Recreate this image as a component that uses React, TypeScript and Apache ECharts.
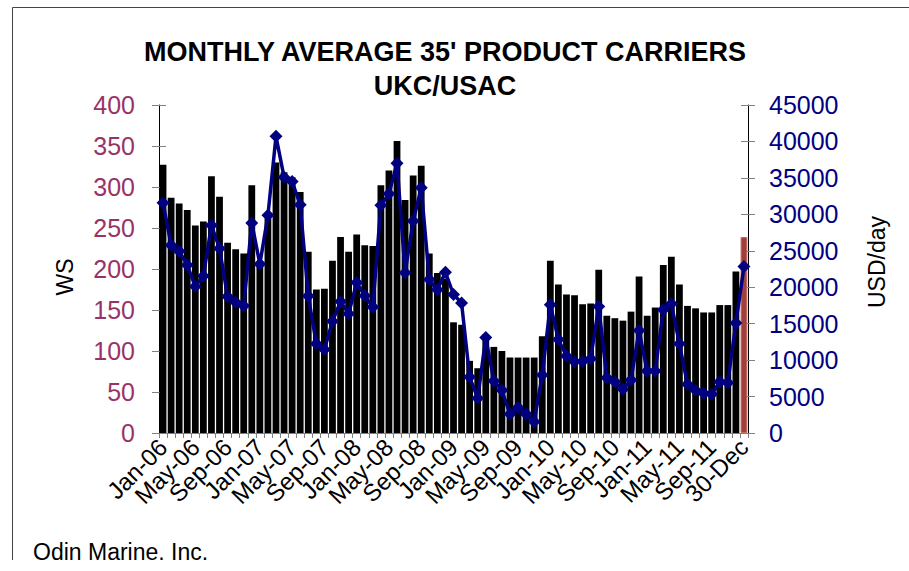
import React, { useEffect, useRef } from 'react';
import * as echarts from 'echarts';

const MONTHS = ['Jan', 'Feb', 'Mar', 'Apr', 'May', 'Jun', 'Jul', 'Aug', 'Sep', 'Oct', 'Nov', 'Dec'];
const YEARS = ['06', '07', '08', '09', '10', '11'];
const LAST_CATEGORY = '30-Dec';
const categories: string[] = [...YEARS.flatMap((y) => MONTHS.map((m) => `${m}-${y}`)), LAST_CATEGORY];
const LABEL_EVERY = 4;

// WS (left axis, bars)
const wsValues = [
  327, 287, 280, 272, 253, 258, 313, 288, 232, 224, 219, 302,
  206, 262, 330, 318, 312, 294, 221, 175, 176, 210, 239, 221,
  242, 229, 228, 302, 320, 356, 284, 314, 326, 219, 195, 188,
  135, 132, 88, 79, 120, 105, 100, 92, 92, 92, 92, 118,
  210, 181, 169, 168, 157, 158, 199, 143, 140, 137, 148, 191,
  143, 153, 205, 215, 181, 155, 152, 147, 147, 156, 156, 197,
  239,
];

// USD/day (right axis, line)
const usdValues = [
  31600, 25770, 24950, 23050, 20090, 21550, 28500, 25320, 18730, 17950, 17460, 28820,
  23180, 29860, 40700, 35100, 34500, 31300, 18800, 12230, 11450, 15320, 18050, 16360,
  20640, 18820, 17270, 31230, 32820, 37000, 22000, 29090, 33640, 21050, 19640, 22050,
  19000, 17850, 7680, 4770, 13100, 7140, 5860, 2590, 3500, 2590, 1550, 7960,
  17590, 12820, 10550, 9770, 9860, 10180, 17360, 7590, 7040, 6000, 7270, 14050,
  8500, 8500, 16910, 17730, 12230, 6680, 5860, 5450, 5320, 7040, 6910, 15090,
  22850,
];

const WS_MAX = 400;
const WS_STEP = 50;
const USD_MAX = 45000;
const USD_STEP = 5000;

const TITLE_LINE_1 = "MONTHLY AVERAGE 35' PRODUCT CARRIERS";
const TITLE_LINE_2 = 'UKC/USAC';
const LEFT_NAME = 'WS';
const RIGHT_NAME = 'USD/day';
const SOURCE = 'Odin Marine, Inc.';

const FONT = '"Liberation Sans", Arial, Helvetica, sans-serif';

export default function App() {
  const ref = useRef<HTMLDivElement>(null);

  useEffect(() => {
    if (!ref.current) return;
    const chart = echarts.init(ref.current, undefined, { renderer: 'svg' });
    const last = categories.length - 1;

    const hiddenAxisBase = {
      type: 'value' as const,
      axisLine: { show: false },
      axisLabel: { show: false },
      splitLine: { show: false },
    };

    chart.setOption({
      animation: false,
      backgroundColor: '#ffffff',
      grid: { left: 159, right: 161, top: 105, bottom: 138, containLabel: false },
      xAxis: {
        type: 'category',
        data: categories,
        boundaryGap: true,
        axisLine: { show: true, lineStyle: { color: '#808080', width: 1 } },
        axisTick: { show: true, interval: 0, length: 5, lineStyle: { color: '#808080' } },
        axisLabel: {
          interval: 0,
          rotate: 45,
          fontSize: 24,
          color: '#000000',
          fontFamily: FONT,
          margin: 10,
          hideOverlap: false,
          formatter: (value: string, index: number) => (index % LABEL_EVERY === 0 ? value : ''),
        },
        splitLine: { show: false },
      },
      yAxis: [
        {
          type: 'value',
          position: 'left',
          min: 0,
          max: WS_MAX,
          interval: WS_STEP,
          axisLine: { show: true, lineStyle: { color: '#000000', width: 1 } },
          axisTick: { show: true, length: 7, lineStyle: { color: '#808080' } },
          axisLabel: { fontSize: 25, color: '#993366', margin: 24, fontFamily: FONT },
          splitLine: { show: false },
        },
        {
          type: 'value',
          position: 'right',
          min: 0,
          max: USD_MAX,
          interval: USD_STEP,
          axisLine: { show: true, lineStyle: { color: '#000000', width: 1 } },
          axisTick: { show: true, length: 7, lineStyle: { color: '#808080' } },
          axisLabel: {
            fontSize: 25,
            color: '#000080',
            margin: 21,
            fontFamily: FONT,
            formatter: (v: number) => String(v),
          },
          splitLine: { show: false },
        },
        {
          ...hiddenAxisBase,
          position: 'left',
          min: 0,
          max: WS_MAX,
          interval: WS_STEP,
          axisTick: { show: true, inside: true, length: 7, lineStyle: { color: '#808080' } },
        },
        {
          ...hiddenAxisBase,
          position: 'right',
          min: 0,
          max: USD_MAX,
          interval: USD_STEP,
          axisTick: { show: true, inside: true, length: 7, lineStyle: { color: '#808080' } },
        },
      ],
      series: [
        {
          name: LEFT_NAME,
          type: 'bar',
          yAxisIndex: 0,
          barCategoryGap: '16%',
          itemStyle: { color: '#000000' },
          data: wsValues.map((v, i) =>
            i === last
              ? { value: v, itemStyle: { color: '#a0403b', borderColor: '#c96a62', borderWidth: 1 } }
              : v
          ),
        },
        {
          name: RIGHT_NAME,
          type: 'line',
          yAxisIndex: 1,
          data: usdValues,
          symbol: 'diamond',
          symbolSize: 13,
          showSymbol: true,
          showAllSymbol: true,
          lineStyle: { color: '#000080', width: 3.5 },
          itemStyle: { color: '#000080' },
          z: 5,
        },
      ],
      graphic: [
        {
          type: 'rect',
          shape: { x: 12.5, y: 7.5, width: 1000, height: 1000 },
          style: { fill: 'none', stroke: '#444444', lineWidth: 1 },
          silent: true,
        },
        {
          type: 'text',
          x: 445,
          y: 52,
          style: {
            text: TITLE_LINE_1,
            font: `bold 27px ${FONT}`,
            fill: '#000000',
            textAlign: 'center',
            textVerticalAlign: 'middle',
            align: 'center',
            verticalAlign: 'middle',
          },
        },
        {
          type: 'text',
          x: 445,
          y: 86,
          style: {
            text: TITLE_LINE_2,
            font: `bold 27px ${FONT}`,
            fill: '#000000',
            textAlign: 'center',
            textVerticalAlign: 'middle',
            align: 'center',
            verticalAlign: 'middle',
          },
        },
        {
          type: 'text',
          x: 65,
          y: 277,
          rotation: Math.PI / 2,
          style: {
            text: LEFT_NAME,
            font: `23px ${FONT}`,
            fill: '#000000',
            textAlign: 'center',
            textVerticalAlign: 'middle',
            align: 'center',
            verticalAlign: 'middle',
          },
        },
        {
          type: 'text',
          x: 877,
          y: 262,
          rotation: Math.PI / 2,
          style: {
            text: RIGHT_NAME,
            font: `23px ${FONT}`,
            fill: '#000000',
            textAlign: 'center',
            textVerticalAlign: 'middle',
            align: 'center',
            verticalAlign: 'middle',
          },
        },
        {
          type: 'text',
          x: 33,
          y: 540,
          style: {
            text: SOURCE,
            font: `23px ${FONT}`,
            fill: '#000000',
            textAlign: 'left',
            textVerticalAlign: 'top',
            align: 'left',
            verticalAlign: 'top',
          },
        },
        {
          type: 'rect',
          z: 100,
          shape: { x: 0, y: 560, width: 909, height: 20 },
          style: { fill: '#ffffff' },
          silent: true,
        },
      ],
    });

    return () => chart.dispose();
  }, []);

  return (
    <div
      ref={ref}
      style={{ position: 'absolute', left: 0, top: 0, width: 909, height: 571 }}
    />
  );
}
